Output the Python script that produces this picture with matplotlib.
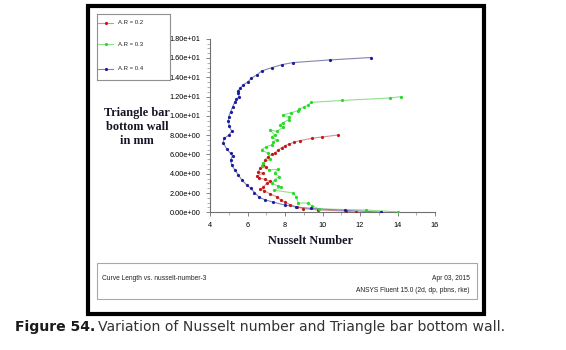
import matplotlib
matplotlib.use("Agg")
import matplotlib.pyplot as plt
from matplotlib.patches import Rectangle
from matplotlib.ticker import MultipleLocator, FormatStrFormatter

plt.rcParams["font.family"] = ["Liberation Sans", "DejaVu Sans"]

# Nusselt number (x) against curve length along the triangle bar bottom wall (y)
ar02_nu = [10.85, 9.95, 9.42, 8.8, 8.48, 8.23, 8.0, 7.82, 7.64, 7.47, 7.29, 7.11,
           6.93, 6.84, 7.0, 6.67, 6.58, 6.84, 6.49, 6.63, 6.93, 7.2, 7.02, 6.84,
           6.67, 6.9, 7.2, 7.56, 7.77, 8.0, 8.27, 8.62, 8.98, 9.78, 11.25, 11.8]
ar02_len = [8.02, 7.8, 7.67, 7.43, 7.26, 7.08, 6.91, 6.7, 6.46, 6.18, 6.0, 5.77,
            5.43, 4.91, 4.73, 4.56, 4.21, 4.05, 3.77, 3.53, 3.42, 3.2, 3.0, 2.6,
            2.39, 2.25, 1.9, 1.62, 1.28, 1.05, 0.8, 0.55, 0.38, 0.24, 0.13, 0.0]

ar03_nu = [14.2, 13.6, 11.05, 9.4, 9.2, 9.0, 8.75, 8.7, 8.3, 7.9, 8.2, 8.2, 7.9,
           7.75, 7.9, 7.55, 7.2, 7.45, 7.3, 7.55, 7.35, 7.3, 7.0, 6.75, 7.1, 7.2,
           6.8, 6.75, 7.15, 7.6, 7.45, 7.7, 7.45, 7.3, 7.6, 7.8, 7.4, 8.45, 8.6,
           8.7, 9.25, 9.45, 9.8, 12.3, 14.0]
ar03_len = [12.0, 11.85, 11.6, 11.4, 11.1, 10.9, 10.72, 10.55, 10.3, 10.1, 9.85,
            9.6, 9.3, 9.1, 8.8, 8.4, 8.55, 8.0, 7.85, 7.5, 7.3, 7.0, 6.8, 6.5, 6.1,
            5.5, 5.1, 4.75, 4.4, 4.45, 4.1, 3.7, 3.4, 3.0, 2.75, 2.6, 2.3, 2.0, 1.6,
            1.0, 0.93, 0.65, 0.35, 0.24, 0.05]

ar04_nu = [12.6, 10.4, 8.4, 7.82, 7.3, 6.76, 6.5, 6.2, 6.04, 5.77, 5.6, 5.5, 5.48,
           5.56, 5.4, 5.33, 5.21, 5.1, 5.0, 4.98, 5.03, 5.16, 5.0, 4.75, 4.7, 4.9,
           5.1, 5.2, 5.1, 5.15, 5.33, 5.5, 5.7, 5.95, 6.17, 6.37, 6.63, 6.93, 7.38,
           8.0, 8.6, 9.4, 11.2, 13.1]
ar04_len = [16.05, 15.8, 15.52, 15.3, 15.0, 14.66, 14.25, 13.9, 13.55, 13.2, 12.86,
            12.6, 12.34, 12.0, 11.7, 11.47, 10.95, 10.44, 9.9, 9.5, 8.9, 8.4, 8.0,
            7.67, 7.2, 6.55, 6.1, 5.85, 5.45, 4.9, 4.4, 3.9, 3.35, 2.85, 2.5, 2.05,
            1.55, 1.3, 1.05, 0.75, 0.55, 0.4, 0.2, 0.02]

series = [
    ("A.R = 0.2", ar02_nu, ar02_len, "#c41818", "#d99090"),
    ("A.R = 0.3", ar03_nu, ar03_len, "#22dd22", "#8fe08f"),
    ("A.R = 0.4", ar04_nu, ar04_len, "#1c1ca0", "#8484b0"),
]

W, H = 566, 350
fig = plt.figure(figsize=(W / 100, H / 100), dpi=100)
fig.patch.set_facecolor("white")


def fx(px):
    return px / W


def fy(py):
    return 1 - py / H


ax = fig.add_axes([fx(210), fy(212.3), (435 - 210) / W, (212.3 - 38.7) / H])
for label, nu, length, mcol, lcol in series:
    ax.plot(nu, length, "-", color=lcol, lw=0.8, zorder=2)
    ax.plot(nu, length, "o", color=mcol, ms=2.3, mew=0, zorder=3)

ax.set_xlim(4, 16)
ax.set_ylim(0, 18)
ax.xaxis.set_major_locator(MultipleLocator(2))
ax.xaxis.set_minor_locator(MultipleLocator(1))
ax.yaxis.set_major_locator(MultipleLocator(2))
ax.yaxis.set_minor_locator(MultipleLocator(0.5))
ax.yaxis.set_major_formatter(FormatStrFormatter("%.2e"))
for s in ["top", "right"]:
    ax.spines[s].set_visible(False)
for s in ["left", "bottom"]:
    ax.spines[s].set_color("#707070")
    ax.spines[s].set_linewidth(0.8)
ax.tick_params(which="major", length=3, width=0.6, color="#707070",
               labelsize=5.3, pad=4)
ax.tick_params(which="minor", length=2, width=0.5, color="#909090")
ax.tick_params(axis="x", pad=4)

lab_font = dict(family="Liberation Serif", weight="bold", size=8.8, color="#151525")
fig.text(fx(311), fy(241), "Nusselt Number", ha="center", va="center", **lab_font)
fig.text(fx(137), fy(127), "Triangle bar\nbottom wall\nin mm", ha="center",
         va="center", linespacing=1.2, **lab_font)

# legend box drawn outside the plot area
lg = fig.add_axes([fx(97), fy(80), 73 / W, 66 / H])
lg.set_xlim(0, 1)
lg.set_ylim(0, 1)
lg.set_xticks([])
lg.set_yticks([])
for s in lg.spines.values():
    s.set_color("#909090")
    s.set_linewidth(0.8)
for (label, nu, length, mcol, lcol), yy in zip(series, [0.87, 0.545, 0.17]):
    lg.plot([0.02, 0.225], [yy, yy], "-", color=lcol, lw=0.8)
    lg.plot([0.12], [yy], "o", color=mcol, ms=2.3, mew=0)
    lg.text(0.29, yy, label, fontsize=4.3, va="center", ha="left", color="#222")

# footer panel
fig.patches.append(Rectangle((fx(97), fy(299)), 380 / W, 36 / H, fill=False,
                             ec="#a8a8a8", lw=0.8, transform=fig.transFigure))
fig.text(fx(102), fy(279), "Curve Length vs. nusselt-number-3", fontsize=4.8,
         va="center", ha="left", color="#222")
fig.text(fx(470), fy(279), "Apr 03, 2015", fontsize=4.8, va="center",
         ha="right", color="#222")
fig.text(fx(470), fy(290), "ANSYS Fluent 15.0 (2d, dp, pbns, rke)", fontsize=4.8,
         va="center", ha="right", color="#222")

# outer black frame
fig.patches.append(Rectangle((fx(87.7), fy(314)), (484 - 87.7) / W, (314 - 5.7) / H,
                             fill=False, ec="black", lw=3, transform=fig.transFigure))

# caption
cap_bold = fig.text(fx(15), fy(331.5), "Figure 54.", fontsize=10.1, weight="bold",
                    family="DejaVu Sans", va="baseline", ha="left", color="#1a1a1a")
renderer = fig.canvas.get_renderer()
bb = cap_bold.get_window_extent(renderer)
fig.text(bb.x1 / W + 3 / W, fy(331.5),
         "Variation of Nusselt number and Triangle bar bottom wall.",
         fontsize=10.1, family="DejaVu Sans", va="baseline", ha="left",
         color="#333333")

fig.savefig("out.png", dpi=100)
